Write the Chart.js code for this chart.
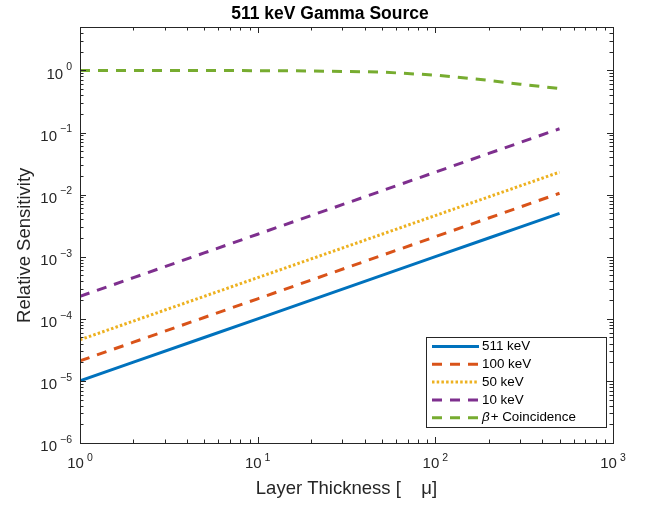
<!DOCTYPE html>
<html><head><meta charset="utf-8">
<script src="https://cdn.jsdelivr.net/npm/chart.js@4.4.1/dist/chart.umd.min.js"></script>
<style>html,body{margin:0;padding:0;background:#fff}#wrap{width:647px;height:506px}</style>
</head><body><div id="wrap"><canvas id="c" width="647" height="506"></canvas></div>
<script>
// ---- data ----
const thickness   = [1, 2, 5, 10, 20, 50, 100, 200, 300, 500];
const sens511     = [1e-5, 2e-5, 5e-5, 1e-4, 2e-4, 5e-4, 1e-3, 2e-3, 3e-3, 5e-3];
const sens100     = [2.1e-5, 4.2e-5, 1.05e-4, 2.1e-4, 4.2e-4, 1.05e-3, 2.1e-3, 4.2e-3, 6.3e-3, 1.05e-2];
const sens50      = [4.6e-5, 9.2e-5, 2.3e-4, 4.6e-4, 9.2e-4, 2.3e-3, 4.6e-3, 9.2e-3, 1.38e-2, 2.3e-2];
const sens10      = [2.3e-4, 4.6e-4, 1.15e-3, 2.3e-3, 4.6e-3, 1.15e-2, 2.3e-2, 4.6e-2, 6.9e-2, 0.115];
const coincidence = [1.0, 1.0, 1.0, 0.99, 0.98, 0.94, 0.84, 0.69, 0.60, 0.51];
const seriesLabels = ['511 keV', '100 keV', '50 keV', '10 keV', 'β+ Coincidence'];
const xTickExponents = ['0', '1', '2', '3'];
const yTickExponents = ['−6', '−5', '−4', '−3', '−2', '−1', '0'];
const chartTitle = '511 keV Gamma Source';
const xTitle = 'Layer Thickness [    μ]';
const yTitle = 'Relative Sensitivity    ';

const FONT = "'Liberation Sans', Arial, Helvetica, sans-serif";
const AX = '#262626';

function pts(ys) { return thickness.map((x, i) => ({x: x, y: ys[i]})); }
function expVal(e) { return Math.pow(10, parseFloat(e.replace('−', '-'))); }

const datasets = [
  {label: seriesLabels[0], data: pts(sens511), borderColor: '#0072BD', borderDash: []},
  {label: seriesLabels[1], data: pts(sens100), borderColor: '#D95319', borderDash: [10, 8]},
  {label: seriesLabels[2], data: pts(sens50), borderColor: '#EDB120', borderDash: [2.5, 2.2]},
  {label: seriesLabels[3], data: pts(sens10), borderColor: '#7E2F8E', borderDash: [10, 8]},
  {label: seriesLabels[4], data: pts(coincidence), borderColor: '#77AC30', borderDash: [10, 8]}
].map(d => Object.assign(d, {borderWidth: 3, pointRadius: 0, fill: false, tension: 0, borderCapStyle: 'butt', yAxisID: 'y'}));

const matlabAxes = {
  id: 'matlabAxes',
  afterDatasetsDraw(chart) {
    const ctx = chart.ctx, a = chart.chartArea;
    const xs = chart.scales.x, ys = chart.scales.y;
    ctx.save();
    ctx.strokeStyle = AX; ctx.lineWidth = 1;
    ctx.strokeRect(Math.round(a.left) + 0.5, Math.round(a.top) + 0.5,
                   Math.round(a.right - a.left), Math.round(a.bottom - a.top));
    const MAJ = 6, MIN = 3.5;
    ctx.beginPath();
    xTickExponents.forEach((e, i) => {
      const base = expVal(e);
      const px = Math.round(xs.getPixelForValue(base)) + 0.5;
      ctx.moveTo(px, a.bottom); ctx.lineTo(px, a.bottom - MAJ);
      ctx.moveTo(px, a.top); ctx.lineTo(px, a.top + MAJ);
      if (i < xTickExponents.length - 1) {
        for (let m = 2; m <= 9; m++) {
          const q = Math.round(xs.getPixelForValue(m * base)) + 0.5;
          ctx.moveTo(q, a.bottom); ctx.lineTo(q, a.bottom - MIN);
          ctx.moveTo(q, a.top); ctx.lineTo(q, a.top + MIN);
        }
      }
    });
    yTickExponents.forEach((e) => {
      const base = expVal(e);
      const py = Math.round(ys.getPixelForValue(base)) + 0.5;
      ctx.moveTo(a.left, py); ctx.lineTo(a.left + MAJ, py);
      ctx.moveTo(a.right, py); ctx.lineTo(a.right - MAJ, py);
      for (let m = 2; m <= 9; m++) {
        const v = m * base;
        if (v > ys.max) break;
        const q = Math.round(ys.getPixelForValue(v)) + 0.5;
        ctx.moveTo(a.left, q); ctx.lineTo(a.left + MIN, q);
        ctx.moveTo(a.right, q); ctx.lineTo(a.right - MIN, q);
      }
    });
    ctx.stroke();

    // tick labels: "10" with superscript exponent
    const baseFont = '15px ' + FONT, expFont = '10.5px ' + FONT;
    ctx.fillStyle = AX; ctx.textBaseline = 'middle';
    xTickExponents.forEach((e) => {
      const px = xs.getPixelForValue(expVal(e));
      ctx.font = baseFont; const w1 = ctx.measureText('10').width;
      ctx.font = expFont; const w2 = ctx.measureText(e).width;
      const gap = 3, total = w1 + gap + w2, x0 = px - total / 2;
      ctx.textAlign = 'left';
      ctx.font = baseFont; ctx.fillText('10', x0, a.bottom + 21);
      ctx.font = expFont; ctx.fillText(e, x0 + w1 + gap, a.bottom + 15);
    });
    yTickExponents.forEach((e) => {
      const py = ys.getPixelForValue(expVal(e));
      ctx.font = expFont; const w2 = ctx.measureText(e).width;
      const right = a.left - 8, gap = 3;
      ctx.textAlign = 'right';
      ctx.font = expFont; ctx.fillText(e, right, py - 3);
      ctx.font = baseFont; ctx.fillText('10', right - w2 - gap, py + 4);
    });

    // legend (inside, south-east)
    const L = {x: 426, y: 337, w: 180, h: 90};
    ctx.fillStyle = '#fff';
    ctx.fillRect(L.x, L.y, L.w, L.h);
    ctx.strokeStyle = AX; ctx.lineWidth = 1;
    ctx.strokeRect(L.x + 0.5, L.y + 0.5, L.w, L.h);
    const legFont = '13.4px ' + FONT;
    ctx.textAlign = 'left'; ctx.textBaseline = 'middle';
    chart.data.datasets.forEach((d, i) => {
      const ry = L.y + 9.5 + i * 17.8;
      ctx.save();
      ctx.strokeStyle = d.borderColor; ctx.lineWidth = d.borderWidth;
      ctx.setLineDash(d.borderDash || []); ctx.lineCap = 'butt';
      ctx.beginPath(); ctx.moveTo(L.x + 6, ry); ctx.lineTo(L.x + 53, ry); ctx.stroke();
      ctx.restore();
      ctx.fillStyle = '#000';
      let tx = L.x + 56;
      let text = d.label;
      if (text.charAt(0) === 'β') {
        ctx.font = 'italic ' + legFont;
        ctx.fillText('β', tx, ry);
        tx += ctx.measureText('β').width + 1;
        text = text.slice(1);
      }
      ctx.font = legFont;
      ctx.fillText(text, tx, ry);
    });
    ctx.restore();
  }
};

new Chart(document.getElementById('c'), {
  type: 'line',
  data: {datasets: datasets},
  options: {
    responsive: false, animation: false, devicePixelRatio: 1,
    layout: {padding: {left: 13, right: 0, top: 0, bottom: 4}},
    plugins: {
      legend: {display: false},
      tooltip: {enabled: false},
      title: {display: true, text: chartTitle, color: '#000',
              font: {family: FONT, size: 17.5, weight: 'bold'}, padding: {top: 3.5, bottom: 2.5}}
    },
    scales: {
      x: {type: 'logarithmic', min: 1, max: 1000,
          ticks: {display: false}, grid: {display: false, drawTicks: false}, border: {display: false},
          title: {display: true, text: xTitle, color: AX, font: {family: FONT, size: 18.5},
                  padding: {top: 30, bottom: 2.4}},
          afterFit: (s) => { s.height = 59; }},
      y: {type: 'logarithmic', position: 'left', min: 1e-6, max: 5,
          ticks: {display: false}, grid: {display: false, drawTicks: false}, border: {display: false},
          title: {display: true, text: yTitle, color: AX, font: {family: FONT, size: 18.5},
                  padding: {top: 0.4, bottom: 40}},
          afterFit: (s) => { s.width = 67; }},
      yRight: {type: 'linear', position: 'right', display: true,
          ticks: {display: false}, grid: {display: false, drawTicks: false}, border: {display: false},
          afterFit: (s) => { s.width = 34; }}
    }
  },
  plugins: [matlabAxes]
});
</script></body></html>
